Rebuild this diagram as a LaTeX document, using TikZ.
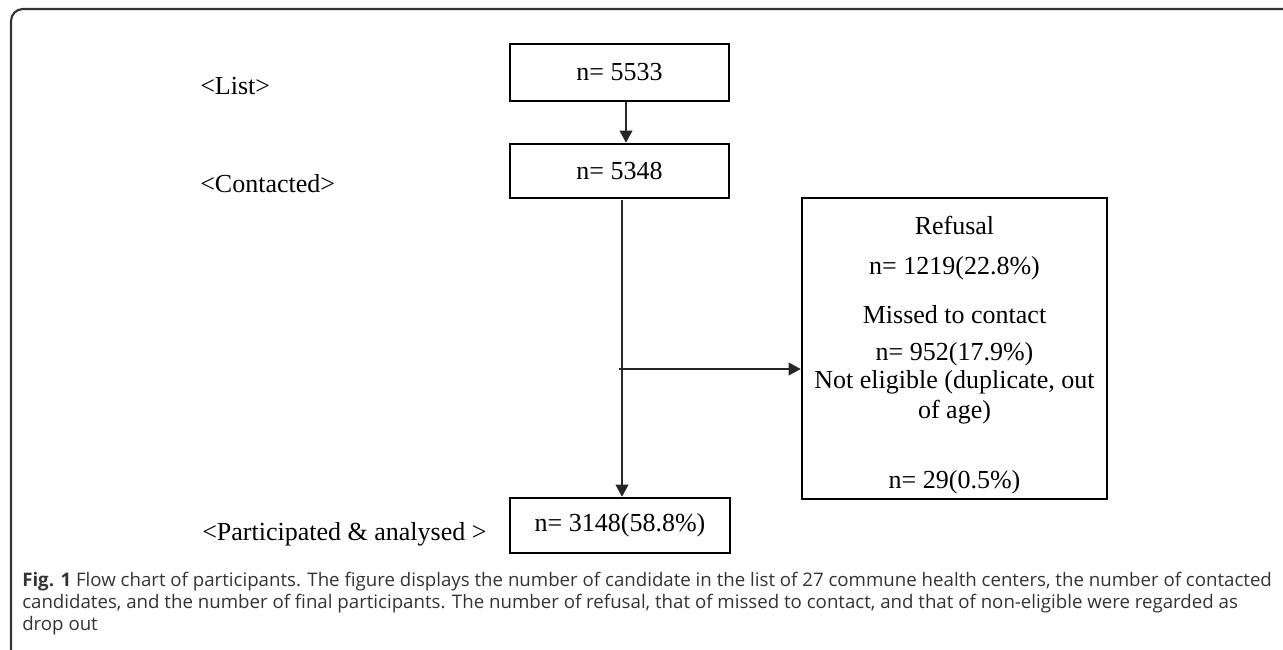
\documentclass[tikz,border=0pt]{standalone}
\usepackage{fontspec}
\setmainfont{Liberation Serif}
\newfontfamily\capfont{Open Sans}
\usetikzlibrary{arrows.meta,calc}
\tikzset{
  box/.style={draw=black, line width=1.9pt, inner sep=0pt, font=\fontsize{19.5pt}{22pt}\selectfont},
  lbl/.style={anchor=base west, inner sep=0pt, font=\fontsize{19.5pt}{22pt}\selectfont},
  inl/.style={anchor=base, inner sep=0pt, font=\fontsize{19.5pt}{22pt}\selectfont},
  conn/.style={line width=1.1pt, draw=black!85, -{Triangle[length=9pt,width=9.5pt]}},
  captext/.style={anchor=base west, inner sep=0pt, font=\capfont\fontsize{14pt}{17pt}\selectfont, text=black!80},
}
\begin{document}
\begin{tikzpicture}[x=0.75pt, y=-0.75pt]
\useasboundingbox (0,0) rectangle (1283,650);
% frame
\draw[black!80, line width=1.6pt, rounded corners=9pt] (1283,9) -- (11,9) -- (11,650);
% boxes
\node[box, minimum width=164.25pt, minimum height=42.75pt] (b1) at (619.5,72.5) {n= 5533};
\node[box, minimum width=164.25pt, minimum height=40.5pt] (b2) at (619.5,171) {n= 5348};
\node[box, minimum width=165pt, minimum height=41.25pt] (b3) at (620,525.5) {n= 3148(58.8\%)};
\node[box, minimum width=228.75pt, minimum height=225.75pt] (drop) at (954.5,348.5) {};
% texts inside the drop-out box
\node[inl] (t1) at (954.5,234) {Refusal};
\node[inl] (t2) at (954.5,274) {n= 1219(22.8\%)};
\node[inl] (t3) at (954.5,323) {Missed to contact};
\node[inl] (t4) at (954.5,360) {n= 952(17.9\%)};
\node[inl] (t5) at (954.5,388) {Not eligible (duplicate, out};
\node[inl] (t6) at (954.5,418) {of age)};
\node[inl] (t7) at (954.5,488) {n= 29(0.5\%)};
% side labels
\node[lbl] (l1) at (200,94) {<List>};
\node[lbl] (l2) at (200,192) {<Contacted>};
\node[lbl] (l3) at (202,540) {<Participated \& analysed >};
% connectors
\coordinate (a1) at (626,0);
\draw[conn] (b1.south -| a1) -- (b2.north -| a1);
\coordinate (v1) at (622,200);
\draw[conn] (v1) -- (v1 |- b3.north);
\coordinate (h1) at (619,369);
\draw[conn] (h1) -- (h1 -| drop.west);
% caption
\node[captext] (c1) at (22,586) {\textbf{Fig. 1} Flow chart of participants. The figure displays the number of candidate in the list of 27 commune health centers, the number of contacted};
\node[captext] (c2) at (22,608) {candidates, and the number of final participants. The number of refusal, that of missed to contact, and that of non-eligible were regarded as};
\node[captext] (c3) at (22,630) {drop out};
\end{tikzpicture}
\end{document}
